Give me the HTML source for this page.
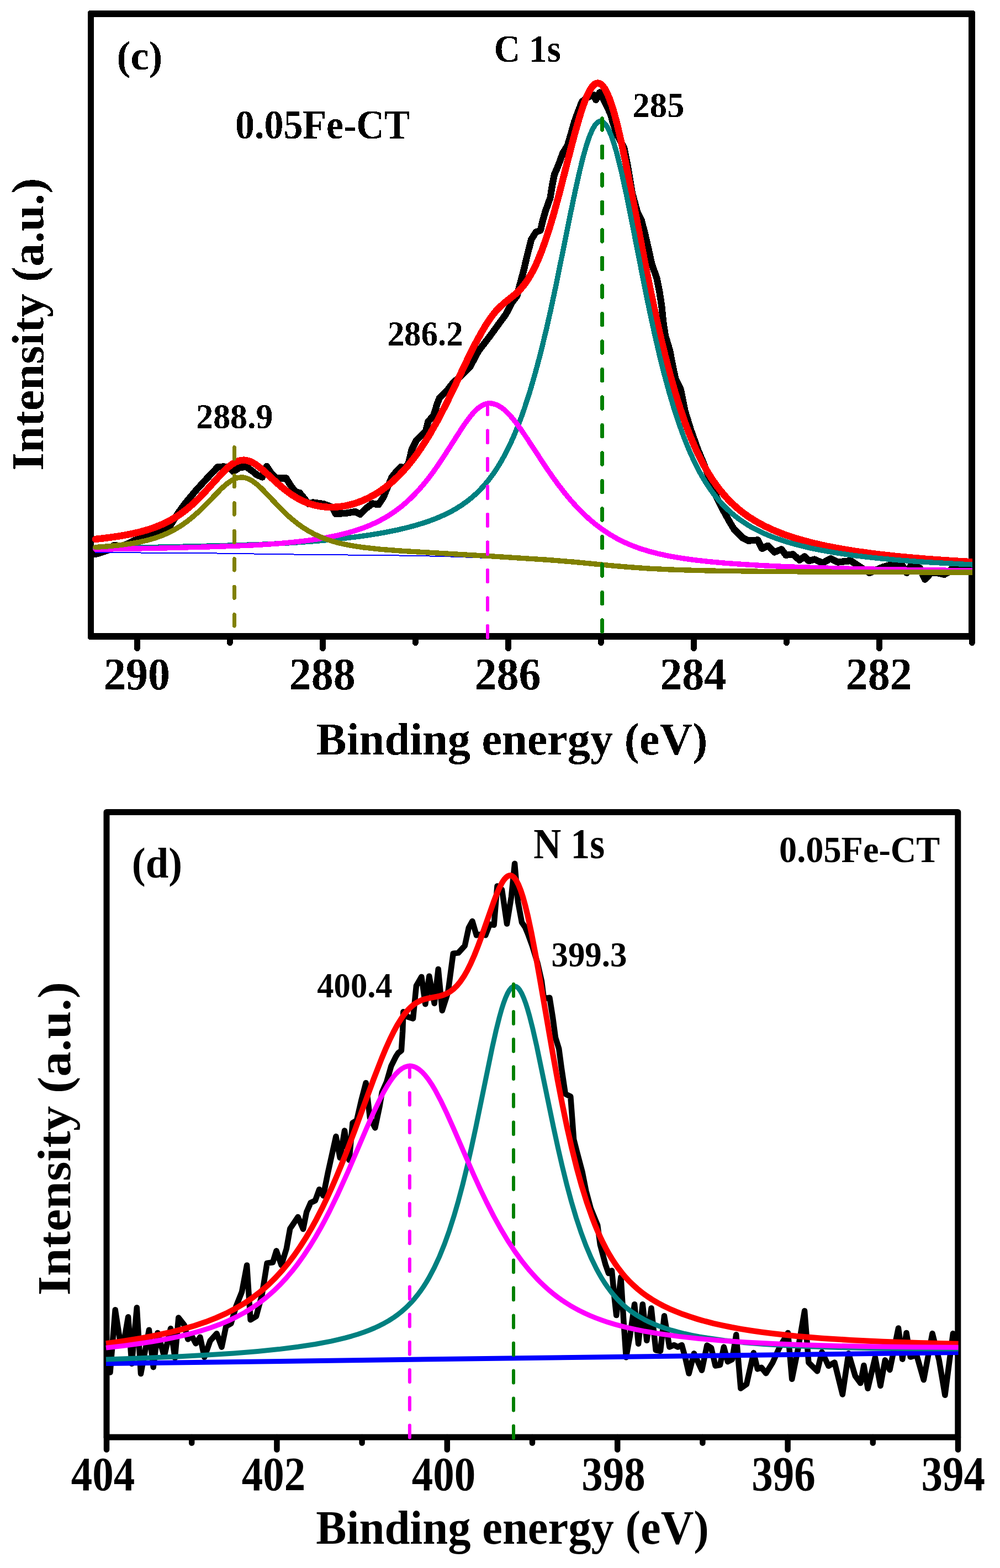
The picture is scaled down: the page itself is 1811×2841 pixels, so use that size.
<!DOCTYPE html>
<html lang="en">
<head>
<meta charset="utf-8">
<title>XPS spectra of 0.05Fe-CT: C 1s and N 1s</title>
<style>
html,body{margin:0;padding:0;background:#fff;}
body{width:1811px;height:2841px;overflow:hidden;}
svg{display:block;}
</style>
</head>
<body>
<svg width="1811" height="2841" viewBox="0 0 1811 2841" role="img" aria-label="XPS spectra">
<rect width="1811" height="2841" fill="#fff"/>
<defs><filter id="hard" x="-5%" y="-5%" width="110%" height="110%" color-interpolation-filters="sRGB"><feComponentTransfer><feFuncA type="discrete" tableValues="0 1"/></feComponentTransfer></filter></defs>
<g id="plot-c" fill="none" stroke-linejoin="round" shape-rendering="crispEdges">
<path fill="#000" fill-rule="evenodd" d="M163,19H1762Q1766,19 1766,23V1155Q1766,1159 1762,1159H163Q159,1159 159,1155V23Q159,19 163,19ZM170,31V1147H1754V31Z"/>
<path d="M248.3,1153V1174.5M584.3,1153V1174.5M920.3,1153V1174.5M1256.3,1153V1174.5M1592.3,1153V1174.5M416.3,1153V1164.5M752.3,1153V1164.5M1088.3,1153V1164.5M1424.3,1153V1164.5M1760.3,1153V1164.5" stroke="#000" stroke-width="11" stroke-linecap="round"/>
<clipPath id="clipc"><rect x="150" y="0" width="1611" height="1200"/></clipPath>
<g clip-path="url(#clipc)" stroke-linecap="round">
<path d="M173.0,1004.0 180.0,1002.0 196.0,996.7 206.0,988.2 221.0,989.2 232.0,985.0 243.0,979.2 277.3,968.0 304.6,958.3 322.2,930.0 335.9,911.4 355.4,888.0 365.2,877.2 376.9,864.5 394.5,846.0 406.2,845.5 416.7,849.0 422.2,854.5 434.7,846.7 446.5,846.0 458.2,854.5 465.4,860.6 475.2,864.5 483.0,845.0 490.8,856.7 500.6,866.4 518.2,866.4 527.9,882.1 535.8,891.9 542.6,892.8 551.4,903.6 559.2,913.3 567.0,910.4 586.6,913.3 602.2,919.2 608.0,930.9 625.6,930.0 643.2,927.0 652.0,931.9 662.8,921.2 674.5,912.4 685.3,914.3 694.0,901.6 703.8,878.2 709.7,864.5 717.5,854.7 726.3,845.9 733.1,848.9 740.0,839.0 745.7,814.8 754.2,797.8 771.1,780.9 775.4,764.0 785.5,752.1 792.3,730.1 795.7,721.6 809.2,708.1 821.1,692.8 831.3,684.4 851.6,664.0 866.5,636.0 887.5,608.7 903.5,586.6 916.0,569.7 926.4,549.4 936.5,535.8 941.6,515.5 948.4,490.1 953.5,468.1 958.6,447.8 962.0,434.2 970.4,420.7 978.9,417.3 982.3,402.0 988.0,382.0 996.4,358.7 1000.6,333.3 1004.0,316.3 1012.5,296.0 1019.3,277.4 1027.7,263.8 1034.8,240.1 1039.9,221.5 1046.7,202.8 1054.0,184.2 1063.0,177.0 1074.5,171.7 1079.3,181.0 1086.0,167.5 1096.5,187.0 1105.6,206.2 1110.3,223.1 1117.0,243.0 1130.2,268.0 1136.5,299.4 1145.0,350.2 1154.3,384.1 1162.0,400.0 1168.6,426.0 1174.6,452.0 1180.3,478.0 1189.4,504.0 1194.6,530.0 1198.5,556.0 1201.0,582.0 1205.0,608.5 1212.9,634.5 1218.0,660.6 1223.3,686.6 1232.9,706.0 1240.7,745.1 1251.1,779.0 1264.2,815.5 1277.2,846.8 1298.0,901.5 1308.5,922.3 1321.5,945.8 1329.3,958.8 1345.0,974.5 1355.4,979.7 1372.3,978.4 1380.1,994.0 1390.6,988.8 1402.3,1000.5 1415.3,995.3 1423.1,1005.7 1436.2,1004.4 1447.9,1014.9 1457.0,1008.3 1464.8,1016.2 1475.2,1013.6 1489.6,1020.1 1504.2,1012.1 1517.3,1018.6 1540.7,1016.0 1556.4,1026.4 1574.6,1038.0 1598.0,1027.7 1616.3,1022.5 1632.0,1021.2 1642.3,1038.0 1650.2,1023.8 1665.8,1029.0 1675.0,1049.8 1686.6,1037.5 1700.0,1038.5 1710.0,1041.0 1717.0,1037.0 1724.0,1030.0 1741.4,1028.0 1770.0,1028.0" stroke="#000" stroke-width="12.3"/>
<path d="M173.0,976.9 196.5,974.2 217.0,971.2 235.5,967.9 252.5,964.1 268.0,959.7 282.0,954.9 295.0,949.5 307.5,943.3 318.5,936.8 329.0,929.7 339.5,921.7 350.0,912.6 359.0,904.0 368.5,894.2 402.0,857.3 408.0,851.2 413.5,846.3 419.5,841.6 425.0,838.1 430.5,835.6 435.5,834.2 438.5,833.8 442.0,833.7 445.0,834.0 448.5,834.7 452.0,835.8 455.5,837.3 459.0,839.1 463.0,841.5 469.0,845.9 476.0,851.6 502.0,875.4 514.0,885.7 526.5,895.1 532.5,899.0 538.5,902.6 549.5,908.2 560.5,912.6 566.0,914.3 572.0,915.9 583.5,917.9 591.5,918.7 599.5,919.0 607.5,918.7 616.0,918.0 624.5,916.7 633.0,914.8 641.5,912.5 650.0,909.6 658.5,906.3 666.5,902.6 674.5,898.4 682.5,893.7 690.5,888.5 698.0,883.1 705.5,877.1 713.0,870.6 721.5,862.5 730.0,853.6 738.5,843.9 746.5,834.0 754.5,823.3 762.5,811.8 770.5,799.6 778.5,786.5 792.0,762.6 806.0,735.8 819.0,709.3 847.0,650.4 860.0,624.3 872.5,601.4 878.5,591.3 884.5,581.9 889.5,574.6 894.0,568.6 898.5,563.2 903.5,557.9 912.5,549.7 927.5,537.7 933.5,532.7 939.0,527.5 944.5,521.7 950.0,514.9 955.5,507.2 961.0,498.2 966.0,489.0 970.0,480.8 974.0,472.0 981.5,453.4 989.0,432.3 997.0,407.2 1004.0,383.3 1011.5,355.8 1034.5,266.3 1042.0,238.1 1049.0,213.6 1055.5,193.3 1059.5,182.3 1063.0,173.9 1066.5,166.6 1070.0,160.6 1073.5,155.9 1076.5,153.0 1078.5,151.7 1080.0,151.0 1083.0,150.6 1085.5,151.1 1087.5,152.0 1089.5,153.5 1091.5,155.5 1095.5,161.1 1100.0,169.7 1104.0,179.4 1108.5,192.5 1113.0,207.6 1118.0,226.6 1125.5,258.8 1134.0,299.4 1142.5,342.7 1169.0,481.5 1178.0,526.4 1186.0,564.4 1195.5,606.9 1204.5,644.3 1213.5,678.8 1223.0,712.2 1232.0,740.8 1241.5,768.2 1251.0,792.8 1261.0,815.8 1271.0,836.2 1276.0,845.5 1281.5,855.1 1287.0,864.0 1292.5,872.3 1298.0,880.1 1304.0,888.0 1311.0,896.4 1318.0,904.2 1325.0,911.3 1332.5,918.2 1340.5,925.0 1348.5,931.2 1357.0,937.1 1366.0,942.8 1375.5,948.3 1385.0,953.3 1395.0,958.1 1406.0,962.8 1417.0,967.2 1429.0,971.4 1441.5,975.5 1454.5,979.3 1468.5,983.0 1483.0,986.5 1498.0,989.8 1514.0,992.9 1548.0,998.7 1585.5,1003.8 1628.5,1008.6 1676.0,1012.8 1707.0,1015.0 1740.0,1017.1 1761.0,1018.3 1770.0,1018.3" stroke="#f00" stroke-width="12.5"/>
<path d="M173.0,1001.3 294.0,1001.6 372.0,1002.2 512.5,1004.3 717.0,1006.4 770.0,1007.3 816.0,1008.5 887.0,1011.2 974.5,1015.7 1005.5,1017.7 1034.0,1019.8 1119.5,1027.5 1156.0,1030.3 1179.5,1031.7 1204.0,1032.8 1260.5,1034.6 1335.0,1035.8 1438.5,1036.6 1582.0,1037.2 1770.0,1037.6" stroke="#00f" stroke-width="2"/>
<path d="M173.0,993.3 263.5,991.7 359.0,989.6 438.5,987.5 486.5,985.8 531.0,983.4 573.5,980.3 613.0,976.6 649.5,972.2 668.0,969.6 686.0,966.7 702.5,963.7 718.5,960.4 733.5,956.9 748.0,953.2 761.5,949.2 774.5,945.0 786.5,940.6 797.5,936.1 808.5,931.0 818.5,925.9 828.0,920.4 837.5,914.3 846.0,908.2 854.5,901.4 861.5,895.2 868.5,888.4 875.5,880.9 882.0,873.3 888.5,865.0 894.5,856.7 900.5,847.7 906.5,837.9 912.5,827.3 918.0,816.8 923.5,805.6 929.0,793.5 934.5,780.5 939.5,768.0 945.0,753.3 950.0,739.1 960.0,708.2 969.5,675.5 979.0,639.7 989.0,598.6 997.5,561.0 1007.0,516.6 1033.5,385.4 1041.5,347.0 1049.0,313.2 1056.0,284.8 1060.5,268.6 1064.5,255.8 1068.5,244.8 1072.5,235.6 1076.5,228.3 1080.0,223.8 1082.0,221.9 1084.0,220.6 1086.0,219.9 1087.5,219.7 1089.0,219.9 1091.0,220.6 1093.0,221.8 1095.0,223.7 1097.0,226.0 1099.0,229.0 1103.0,236.4 1107.0,245.9 1111.0,257.3 1115.0,270.4 1119.5,287.0 1126.5,316.1 1134.5,353.2 1142.5,392.8 1168.5,525.2 1177.0,566.4 1185.0,603.2 1194.0,642.1 1203.0,678.2 1211.5,709.5 1220.5,739.9 1229.5,767.4 1239.0,793.6 1248.5,816.9 1258.0,837.7 1268.0,857.0 1273.0,865.8 1278.5,874.8 1284.0,883.2 1289.5,891.0 1295.0,898.3 1301.0,905.6 1308.0,913.5 1315.0,920.6 1322.0,927.2 1329.5,933.6 1337.5,939.9 1345.5,945.5 1354.0,951.0 1362.5,956.0 1372.0,961.0 1381.5,965.5 1391.5,969.9 1402.5,974.2 1413.5,978.1 1425.5,982.0 1438.0,985.6 1451.0,989.0 1465.0,992.4 1479.5,995.5 1510.5,1001.1 1544.5,1006.2 1582.0,1010.6 1625.0,1014.7 1672.5,1018.2 1736.0,1021.8 1761.0,1022.9 1770.0,1022.9" stroke="#008080" stroke-width="9.4"/>
<path d="M173.0,995.4 284.5,993.3 387.5,990.6 453.5,988.1 479.5,986.6 503.5,984.9 528.5,982.6 551.5,980.1 573.0,977.1 592.5,973.8 610.5,970.2 627.5,966.1 643.0,961.6 658.0,956.5 670.5,951.5 682.5,946.0 694.0,939.9 705.0,933.4 715.5,926.3 726.0,918.4 736.0,910.0 746.0,900.6 756.0,890.3 765.5,879.5 775.0,867.8 784.5,855.1 793.0,843.1 802.5,828.9 837.5,774.2 846.0,762.0 853.5,752.3 858.0,747.2 862.5,742.6 867.0,738.7 871.0,735.8 875.5,733.3 879.5,731.8 883.5,730.9 887.5,730.7 892.0,731.2 897.0,732.6 901.5,734.5 906.5,737.4 911.5,741.0 916.5,745.4 922.0,750.9 927.5,757.1 936.0,767.8 946.0,781.8 956.0,796.7 988.5,846.3 999.5,862.3 1010.0,876.8 1021.5,891.8 1033.0,905.7 1044.5,918.5 1056.0,930.2 1067.5,940.8 1079.5,950.8 1091.5,959.8 1104.0,968.0 1117.0,975.6 1130.0,982.2 1144.0,988.3 1158.5,993.7 1175.0,998.8 1193.0,1003.5 1212.5,1007.6 1234.0,1011.3 1257.5,1014.6 1284.0,1017.6 1313.0,1020.2 1345.5,1022.5 1382.0,1024.7 1422.0,1026.6 1466.5,1028.2 1516.0,1029.7 1572.0,1031.0 1634.5,1032.1 1713.0,1033.2 1770.0,1033.7" stroke="#f0f" stroke-width="9.4"/>
<path d="M173.0,991.5 197.0,989.7 217.5,987.6 235.5,985.2 252.0,982.3 267.0,978.9 280.5,975.0 293.5,970.4 305.5,965.1 316.5,959.4 327.5,952.7 338.0,945.4 348.5,937.0 357.5,929.1 367.0,920.1 400.5,885.8 407.0,879.8 413.0,874.9 419.5,870.5 426.0,867.2 429.5,866.0 432.5,865.4 435.5,865.0 438.5,864.9 441.5,865.2 444.5,865.8 450.5,867.9 457.0,871.4 464.0,876.5 469.5,881.2 476.0,887.5 507.0,920.1 515.0,928.1 523.0,935.6 532.0,943.3 541.0,950.4 550.0,956.6 559.5,962.5 569.5,967.9 580.0,972.7 591.0,977.0 602.5,980.8 615.0,984.1 628.0,987.0 642.5,989.6 658.5,991.9 690.0,995.3 730.0,998.4 883.5,1007.4 992.5,1014.4 1040.5,1018.3 1111.5,1025.2 1140.0,1027.6 1175.0,1030.1 1212.5,1031.9 1247.5,1033.1 1287.5,1034.1 1394.5,1035.5 1553.0,1036.5 1770.0,1037.1" stroke="#808000" stroke-width="9.4"/>
</g>
<path d="M424.4,810.2V831.4M424.4,860.8V881.9M424.4,911.2V932.4M424.4,961.8V982.9M424.4,1012.2V1033.3M424.4,1062.8V1083.8M424.4,1113.2V1134.3" stroke="#808000" stroke-width="6.5" stroke-linecap="round" fill="none"/>
<path d="M883.0,730.0V751.1M883.0,780.5V801.6M883.0,831.0V852.1M883.0,881.5V902.6M883.0,932.0V953.1M883.0,982.5V1003.6M883.0,1033.0V1054.1M883.0,1083.5V1104.6M883.0,1134.0V1155.1" stroke="#f0f" stroke-width="6.5" stroke-linecap="round" fill="none"/>
<path d="M1090.5,214.4V235.5M1090.5,264.9V286.1M1090.5,315.4V336.6M1090.5,365.9V387.1M1090.5,416.4V437.6M1090.5,466.9V488.1M1090.5,517.5V538.6M1090.5,568.0V589.1M1090.5,618.5V639.6M1090.5,669.0V690.1M1090.5,719.5V740.6M1090.5,770.0V791.1M1090.5,820.5V841.6M1090.5,871.0V892.1M1090.5,921.5V942.6M1090.5,972.0V993.1M1090.5,1022.5V1043.5M1090.5,1073.0V1094.0M1090.5,1123.5V1144.5" stroke="#008000" stroke-width="6.5" stroke-linecap="round" fill="none"/>
</g>
<g id="text-c" font-family="'Liberation Serif', serif" font-weight="bold" font-size="100" fill="#000" style="font-kerning:none" filter="url(#hard)">
<text transform="translate(211.54,126.42) scale(0.7471,0.7467)">(c)</text>
<text transform="translate(894.65,112.21) scale(0.6510,0.6896)">C 1s</text>
<text transform="translate(426.11,250.90) scale(0.6987,0.7324)">0.05Fe-CT</text>
<text transform="translate(1145.45,212.38) scale(0.6256,0.6237)">285</text>
<text transform="translate(701.66,625.85) scale(0.6088,0.6324)">286.2</text>
<text transform="translate(355.33,775.56) scale(0.6179,0.6279)">288.9</text>
<text transform="translate(572.87,1366.79) scale(0.8230,0.8187)">Binding energy (eV)</text>
<text transform="translate(188.00,1249.18) scale(0.8000,0.8163)">290</text>
<text transform="translate(523.80,1249.18) scale(0.8000,0.8163)">288</text>
<text transform="translate(859.60,1249.18) scale(0.8000,0.8163)">286</text>
<text transform="translate(1195.20,1249.18) scale(0.8000,0.8163)">284</text>
<text transform="translate(1531.80,1249.18) scale(0.8000,0.8163)">282</text>
<text transform="translate(78.48,852.77) rotate(-90) scale(0.8486,0.8344)">Intensity (a.u.)</text>
</g>
<g id="plot-d" fill="none" stroke-linejoin="round">
<rect x="193" y="1471.5" width="1541.8" height="1132.5" stroke="#000" stroke-width="11" stroke-linejoin="round"/>
<path d="M193.0,2604V2626.5M501.4,2604V2626.5M809.8,2604V2626.5M1118.2,2604V2626.5M1426.6,2604V2626.5M1735.0,2604V2626.5M347.2,2604V2614.5M655.6,2604V2614.5M964.0,2604V2614.5M1272.4,2604V2614.5M1580.8,2604V2614.5" stroke="#000" stroke-width="10.5" stroke-linecap="round"/>
<path d="M196.0,2486.6 199.5,2486.6 208.7,2373.2 218.0,2433.5 224.0,2433.5 232.1,2386.2 238.6,2470.7 247.8,2369.3 255.0,2489.0 269.9,2409.7 277.7,2477.2 285.5,2414.9 297.3,2457.7 309.0,2407.1 316.8,2460.3 323.3,2387.5 333.7,2400.7 340.3,2426.5 346.8,2419.7 354.6,2434.2 362.4,2422.7 370.2,2459.0 380.7,2429.3 392.4,2416.2 401.5,2440.7 409.3,2403.3 418.4,2398.0 427.6,2366.8 438.0,2340.7 447.1,2292.4 453.6,2391.3 464.0,2385.0 474.5,2345.9 483.6,2288.6 494.0,2287.3 500.5,2266.3 509.6,2292.2 518.8,2262.5 525.3,2226.1 539.6,2205.0 549.0,2226.9 555.2,2196.0 562.5,2179.3 570.9,2175.2 578.2,2155.0 585.5,2166.4 593.8,2125.1 602.1,2087.6 608.4,2059.1 615.7,2097.6 624.0,2048.6 632.4,2101.8 638.6,2034.5 646.0,2030.0 654.3,1993.8 662.6,1962.1 669.9,2025.1 679.3,2043.4 687.6,2004.2 691.8,1979.2 700.1,1960.5 708.5,1931.3 716.8,1914.6 721.0,1908.0 726.9,1903.5 729.2,1868.3 730.4,1833.3 738.6,1842.5 748.0,1845.4 753.9,1786.2 763.3,1769.9 770.3,1819.2 777.3,1768.8 786.7,1818.0 793.7,1755.9 800.8,1830.9 811.3,1798.0 820.7,1727.6 830.1,1726.4 841.8,1713.5 848.9,1680.7 855.4,1669.1 862.9,1694.4 871.0,1692.8 879.3,1694.4 887.0,1674.6 894.6,1675.9 900.5,1605.4 909.0,1612.0 918.0,1673.8 926.0,1625.0 932.1,1564.7 938.0,1633.8 945.0,1671.3 951.0,1680.0 956.0,1692.0 964.0,1714.0 973.5,1745.0 981.0,1778.0 985.0,1809.3 995.4,1807.8 1001.3,1844.9 1006.0,1880.1 1012.2,1900.0 1016.9,1935.2 1023.9,1982.1 1033.3,1986.8 1035.6,2017.3 1039.1,2064.2 1045.0,2087.6 1054.4,2122.8 1061.4,2158.0 1070.0,2190.0 1082.2,2220.0 1086.9,2255.2 1096.3,2290.4 1102.1,2306.9 1108.0,2302.2 1112.7,2351.3 1116.2,2383.1 1124.4,2313.9 1130.3,2407.6 1133.8,2459.3 1141.0,2420.0 1149.1,2363.2 1156.1,2434.7 1163.8,2363.2 1171.3,2428.8 1179.5,2370.2 1187.7,2446.3 1196.0,2447.8 1203.0,2384.3 1212.4,2440.5 1220.6,2437.0 1227.6,2440.5 1234.7,2437.0 1241.0,2460.0 1247.6,2488.6 1256.9,2452.3 1271.0,2482.8 1280.4,2437.6 1288.0,2442.0 1295.6,2474.6 1304.0,2473.0 1310.9,2440.6 1317.9,2467.2 1326.0,2463.0 1333.2,2418.3 1341.4,2515.6 1352.0,2508.0 1364.8,2451.1 1371.9,2480.4 1379.0,2477.8 1387.2,2488.2 1399.3,2468.7 1411.3,2442.2 1427.0,2414.9 1434.2,2498.8 1445.1,2444.6 1457.1,2375.1 1464.4,2468.7 1480.0,2484.4 1488.5,2449.8 1500.5,2474.9 1511.4,2468.5 1525.8,2526.6 1536.7,2452.2 1548.7,2492.8 1558.4,2506.1 1564.4,2473.9 1571.6,2515.7 1584.9,2459.5 1594.5,2510.9 1602.9,2464.3 1611.4,2482.0 1627.0,2406.4 1634.3,2462.7 1641.5,2414.9 1648.7,2458.6 1660.0,2455.2 1672.8,2500.1 1688.5,2416.1 1700.6,2463.9 1711.4,2527.8 1725.9,2416.1 1734.3,2454.3" stroke="#000" stroke-width="10.5" stroke-linecap="round"/>
<path d="M192.0,2434.4 224.0,2429.9 253.5,2425.1 281.0,2419.9 306.5,2414.4 330.0,2408.5 352.0,2402.1 372.5,2395.2 391.5,2387.8 409.5,2379.7 426.5,2370.9 442.5,2361.4 457.5,2351.2 472.0,2340.0 486.0,2327.8 499.0,2315.0 512.0,2300.7 522.5,2288.0 533.0,2274.1 543.5,2258.9 553.5,2243.3 563.5,2226.4 573.0,2209.2 583.0,2189.7 592.5,2170.0 601.0,2151.4 609.5,2131.8 618.0,2111.3 627.0,2088.8 643.0,2046.7 676.5,1955.6 691.5,1917.0 699.0,1899.1 706.0,1883.5 713.0,1869.2 719.5,1857.3 727.5,1844.4 731.5,1838.8 735.5,1833.7 739.5,1829.1 743.5,1825.1 747.5,1821.6 751.5,1818.6 755.0,1816.4 759.0,1814.2 763.0,1812.4 767.5,1810.8 775.5,1808.7 791.0,1805.8 797.0,1804.5 803.5,1802.5 809.0,1800.2 815.5,1796.4 821.5,1791.8 827.5,1786.0 833.5,1778.7 840.0,1769.2 846.0,1758.8 852.5,1745.7 859.0,1731.0 864.5,1717.2 870.5,1701.1 894.0,1634.1 899.5,1619.9 904.0,1609.5 909.0,1599.8 911.5,1595.8 914.0,1592.4 916.5,1589.7 919.0,1587.7 921.5,1586.6 923.5,1586.2 925.5,1586.4 927.5,1587.2 929.5,1588.6 931.5,1590.5 935.0,1595.3 939.0,1603.1 943.0,1613.1 947.0,1625.4 951.0,1639.8 955.5,1658.2 962.5,1690.9 970.0,1730.3 977.5,1772.4 1002.0,1914.2 1010.0,1958.0 1018.0,1999.3 1027.0,2042.6 1035.5,2080.2 1044.5,2116.3 1053.5,2148.8 1062.5,2177.8 1072.0,2204.9 1077.0,2217.9 1082.0,2229.9 1087.0,2241.2 1092.0,2251.7 1097.0,2261.4 1102.5,2271.4 1108.0,2280.5 1114.0,2289.8 1120.0,2298.2 1126.0,2306.0 1132.0,2313.2 1138.5,2320.3 1146.0,2327.7 1154.0,2334.9 1162.5,2341.8 1171.5,2348.4 1181.0,2354.6 1191.0,2360.5 1201.5,2366.1 1212.5,2371.4 1224.0,2376.3 1236.5,2381.2 1249.5,2385.7 1263.0,2390.0 1277.5,2394.1 1292.5,2397.9 1308.5,2401.5 1325.0,2404.9 1342.0,2408.0 1360.0,2410.9 1379.0,2413.7 1399.0,2416.2 1442.0,2420.9 1489.0,2424.8 1541.0,2428.1 1599.0,2430.9 1663.5,2433.2 1735.5,2435.0" stroke="#f00" stroke-width="10.3"/>
<path d="M192.0,2470.5 1735.5,2450.5" stroke="#00f" stroke-width="9"/>
<path d="M192.0,2463.0 261.0,2460.5 321.5,2457.9 375.5,2455.0 423.5,2451.9 466.5,2448.4 505.0,2444.6 539.5,2440.3 571.0,2435.5 599.5,2430.1 612.5,2427.2 625.0,2424.1 637.0,2420.8 648.0,2417.5 659.0,2413.8 669.0,2410.0 678.5,2406.0 687.5,2401.8 696.0,2397.4 704.5,2392.6 712.0,2387.8 719.5,2382.5 726.5,2377.0 733.5,2370.9 739.5,2365.2 745.5,2359.0 751.0,2352.7 756.5,2345.9 762.0,2338.5 767.0,2331.2 772.0,2323.4 777.0,2314.9 786.5,2296.9 796.0,2276.3 805.0,2254.0 813.5,2230.2 822.0,2203.7 830.0,2176.2 838.0,2146.1 846.5,2111.3 854.0,2078.3 861.5,2043.6 891.5,1897.7 898.5,1866.5 904.5,1842.6 908.5,1828.4 912.0,1817.4 915.5,1808.0 919.0,1800.1 922.5,1794.0 925.5,1790.2 927.5,1788.5 929.0,1787.6 930.5,1787.1 932.0,1786.9 933.5,1787.1 935.0,1787.7 936.5,1788.6 938.5,1790.3 941.5,1794.1 945.0,1800.3 948.5,1808.2 952.0,1817.7 955.5,1828.7 959.0,1841.0 965.0,1864.7 972.0,1895.5 1002.5,2043.0 1010.5,2079.7 1018.0,2112.3 1026.5,2146.6 1035.0,2178.0 1043.5,2206.6 1052.0,2232.2 1061.0,2256.5 1070.5,2279.0 1080.0,2298.6 1085.0,2307.8 1090.0,2316.4 1095.0,2324.4 1100.5,2332.4 1106.0,2339.8 1111.5,2346.6 1117.0,2352.8 1123.0,2359.0 1129.0,2364.7 1135.5,2370.3 1143.0,2376.1 1150.5,2381.3 1158.5,2386.2 1166.5,2390.7 1175.5,2395.2 1184.5,2399.1 1194.5,2403.1 1205.0,2406.8 1216.0,2410.2 1227.5,2413.4 1240.0,2416.5 1253.0,2419.3 1266.5,2421.9 1281.0,2424.3 1312.0,2428.7 1346.0,2432.4 1384.0,2435.5 1426.5,2438.0 1474.5,2440.1 1528.0,2441.7 1588.5,2442.9 1657.0,2443.7 1735.5,2444.1" stroke="#008080" stroke-width="9"/>
<path d="M930.0,1783.0V1805.0M930.0,1833.0V1855.0M930.0,1883.1V1905.1M930.0,1933.1V1955.1M930.0,1983.1V2005.1M930.0,2033.2V2055.2M930.0,2083.2V2105.2M930.0,2133.2V2155.2M930.0,2183.2V2205.2M930.0,2233.3V2255.3M930.0,2283.3V2305.3M930.0,2333.3V2355.3M930.0,2383.4V2405.4M930.0,2433.4V2455.4M930.0,2483.4V2505.4M930.0,2533.4V2555.4M930.0,2583.5V2605.5" stroke="#008000" stroke-width="6.0" stroke-linecap="round" fill="none"/>
<path d="M192.0,2442.1 222.0,2438.6 250.0,2434.8 276.0,2430.8 300.0,2426.5 322.5,2421.8 343.0,2417.0 362.5,2411.6 380.5,2406.0 397.5,2399.8 413.5,2393.1 428.5,2385.9 443.0,2378.1 457.0,2369.4 470.0,2360.4 483.0,2350.2 495.5,2339.2 507.0,2328.0 518.0,2316.1 529.0,2303.2 539.5,2289.7 550.0,2275.0 560.5,2259.1 571.0,2242.0 581.0,2224.5 588.5,2210.6 596.5,2195.1 612.0,2163.2 630.0,2123.3 663.5,2045.1 676.0,2016.9 683.0,2002.0 689.5,1988.8 695.5,1977.5 701.0,1968.0 706.5,1959.4 712.0,1951.7 717.5,1945.2 722.5,1940.3 727.5,1936.4 732.5,1933.6 737.5,1931.9 742.5,1931.3 745.0,1931.5 748.0,1932.1 750.5,1932.8 753.5,1934.1 759.0,1937.6 764.5,1942.3 770.0,1948.2 776.0,1955.9 782.0,1964.9 788.0,1975.0 798.0,1993.8 809.5,2017.9 821.0,2043.7 857.5,2127.7 869.5,2154.0 881.0,2177.9 894.0,2203.4 907.0,2226.9 919.5,2247.7 932.5,2267.5 945.5,2285.4 959.0,2302.1 972.5,2317.0 979.5,2324.1 986.5,2330.7 993.5,2337.0 1001.0,2343.2 1008.5,2349.1 1016.5,2354.9 1024.5,2360.3 1032.5,2365.3 1040.5,2369.9 1049.0,2374.5 1059.0,2379.4 1069.0,2383.8 1079.5,2388.1 1090.0,2392.0 1101.5,2395.9 1113.0,2399.4 1125.0,2402.7 1138.0,2405.9 1151.5,2408.9 1165.5,2411.7 1195.5,2416.8 1229.0,2421.4 1266.0,2425.5 1306.5,2429.0 1351.5,2432.0 1400.5,2434.6 1454.5,2436.7 1514.5,2438.4 1580.5,2439.8 1654.0,2440.7 1735.5,2441.3" stroke="#f0f" stroke-width="9"/>
<path d="M741.9,1929.8V1951.8M741.9,1980.0V2002.0M741.9,2030.2V2052.2M741.9,2080.4V2102.4M741.9,2130.6V2152.6M741.9,2180.8V2202.8M741.9,2231.0V2253.0M741.9,2281.2V2303.2M741.9,2331.4V2353.4M741.9,2381.6V2403.6M741.9,2431.8V2453.8M741.9,2482.0V2504.0M741.9,2532.2V2554.2M741.9,2582.4V2604.4" stroke="#f0f" stroke-width="6.0" stroke-linecap="round" fill="none"/>
</g>
<g id="text-d" font-family="'Liberation Serif', serif" font-weight="bold" font-size="100" fill="#000" style="font-kerning:none">
<text transform="translate(238.84,1589.60) scale(0.7463,0.7811)">(d)</text>
<text transform="translate(966.32,1554.91) scale(0.6920,0.7880)">N 1s</text>
<text transform="translate(1411.03,1561.99) scale(0.6434,0.6750)">0.05Fe-CT</text>
<text transform="translate(998.46,1750.65) scale(0.6092,0.6341)">399.3</text>
<text transform="translate(574.29,1806.75) scale(0.6063,0.6324)">400.4</text>
<text transform="translate(572.36,2796.67) scale(0.8264,0.8604)">Binding energy (eV)</text>
<text transform="translate(128.64,2700.02) scale(0.7700,0.8770)">404</text>
<text transform="translate(437.71,2700.02) scale(0.7700,0.8770)">402</text>
<text transform="translate(745.71,2700.02) scale(0.7700,0.8770)">400</text>
<text transform="translate(1053.36,2700.02) scale(0.7700,0.8770)">398</text>
<text transform="translate(1361.37,2700.02) scale(0.7700,0.8836)">396</text>
<text transform="translate(1668.48,2700.02) scale(0.7700,0.8836)">394</text>
<text transform="translate(127.24,2347.28) rotate(-90) scale(0.9094,0.8456)">Intensity (a.u.)</text>
</g>
</svg>
</body>
</html>
